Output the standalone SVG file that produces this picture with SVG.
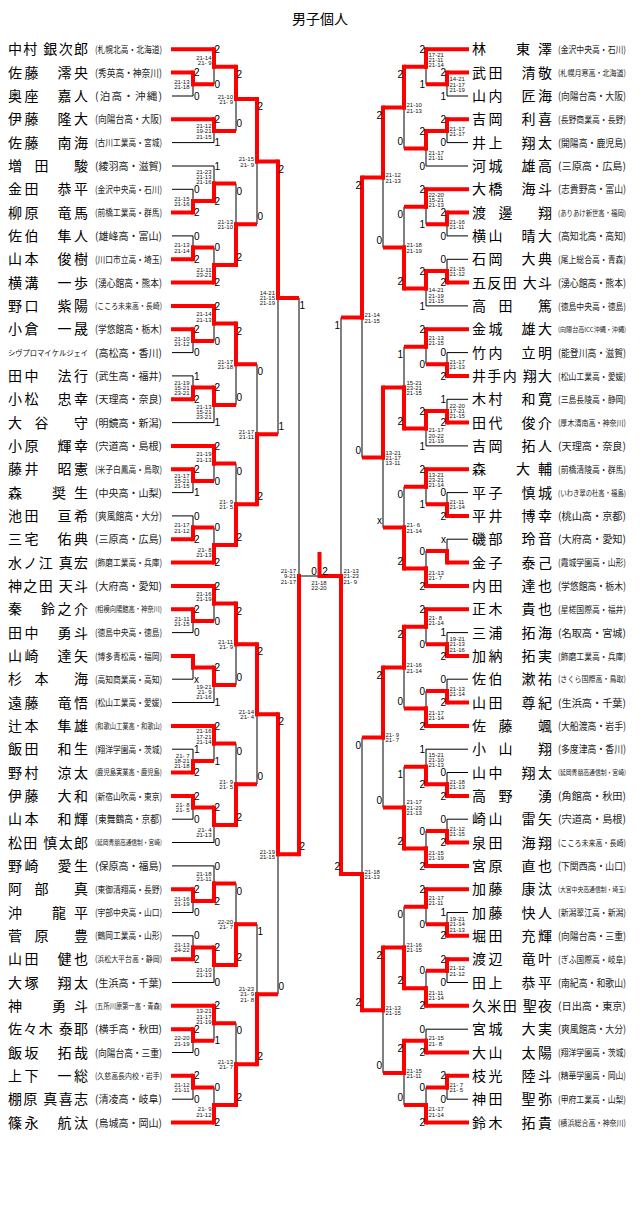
<svg xmlns="http://www.w3.org/2000/svg" width="640" height="1205" viewBox="0 0 640 1205">
<style>
.k{stroke:#000;stroke-width:1;fill:none}
.r{stroke:#f00;stroke-width:4;fill:none}
.rv{stroke:#f00;stroke-width:4;fill:none;stroke-linecap:square}
.nm{font-family:"Noto Sans CJK JP",sans-serif;font-size:14px;fill:#000}
.kt{font-family:"Noto Sans CJK JP",sans-serif;font-size:7.6px;fill:#000}
.af{font-family:"Noto Sans CJK JP",sans-serif;fill:#222}
.a6{font-size:10.5px}
.a8{font-size:9.4px}
.a9{font-size:8.3px}
.a10{font-size:7.5px}
.a11{font-size:6.8px}
.lb{font-family:"Liberation Sans",Arial,sans-serif;font-size:10px;fill:#000}
.lr{font-family:"Liberation Sans",Arial,sans-serif;font-size:10px;fill:#000;text-anchor:end}
.lc{font-family:"Liberation Sans",Arial,sans-serif;font-size:10px;fill:#000;text-anchor:middle}
.sl{font-family:"Liberation Sans",Arial,sans-serif;font-size:6px;fill:#111;text-anchor:end}
.sr{font-family:"Liberation Sans",Arial,sans-serif;font-size:6px;fill:#111}
.sm{font-family:"Liberation Sans",Arial,sans-serif;font-size:6px;fill:#111;text-anchor:middle}
.ti{font-family:"Noto Sans CJK JP",sans-serif;font-size:14px;fill:#000;text-anchor:middle}
</style>
<rect width="640" height="1205" fill="#fff"/>
<text id="title" class="ti" x="320" y="24">男子個人</text>

<g id="connectors">
<path class="k" d="M172 96H193M172 142.6H214M172 166H214M172 189.3H193M172 235.9H193M172 352.6H193M172 375.9H193M172 422.6H214M172 492.6H193M172 515.9H193M172 632.6H193M172 679.2H193M172 702.5H214M172 749.2H193M172 819.2H193M172 842.5H214M172 865.9H214M172 912.5H193M172 935.8H193M172 982.5H214M172 1052.5H193M172 1099.2H193
M193 72.6V96M193 189.3V212.6M193 235.9V259.3M193 329.3V352.6M193 375.9V399.3M193 469.2V492.6M193 515.9V539.2M193 609.2V632.6M193 655.9V679.2M193 749.2V772.5M193 795.9V819.2M193 889.2V912.5M193 935.8V959.2M193 1029.2V1052.5M193 1075.8V1099.2
M214 49.3V84.3M214 119.3V142.6M214 166V201M214 247.6V282.6M214 305.9V340.9M214 387.6V422.6M214 445.9V480.9M214 527.6V562.6M214 585.9V620.9M214 667.6V702.5M214 725.9V760.9M214 807.5V842.5M214 865.9V900.9M214 947.5V982.5M214 1005.8V1040.8M214 1087.5V1122.5
M236 66.8V131M236 183.5V265.1M236 323.4V405.1M236 463.4V545.1M236 603.4V685.1M236 743.4V825M236 883.4V965M236 1023.3V1105
M257 98.9V224.3M257 364.3V504.2M257 644.2V784.2M257 924.2V1064.2
M278 161.6V434.3M278 714.2V994.2
M299 297.9V854.2M299 576H320
M468 96H447M468 142.6H447M468 166H426M468 235.9H447M468 259.3H447M468 305.9H426M468 352.6H447M468 399.3H447M468 445.9H426M468 492.6H447M468 539.2H447M468 632.6H447M468 679.2H447M468 749.2H426M468 772.5H447M468 819.2H447M468 912.5H447M468 982.5H447M468 1029.2H426M468 1099.2H447
M447 72.6V96M447 119.3V142.6M447 212.6V235.9M447 259.3V282.6M447 352.6V375.9M447 399.3V422.6M447 492.6V515.9M447 539.2V562.6M447 632.6V655.9M447 679.2V702.5M447 772.5V795.9M447 819.2V842.5M447 912.5V935.8M447 959.2V982.5M447 1075.8V1099.2
M426 49.3V84.3M426 131V166M426 189.3V224.3M426 270.9V305.9M426 329.3V364.3M426 410.9V445.9M426 469.2V504.2M426 550.9V585.9M426 609.2V644.2M426 690.9V725.9M426 749.2V784.2M426 830.9V865.9M426 889.2V924.2M426 970.8V1005.8M426 1029.2V1052.5M426 1087.5V1122.5
M404 66.8V148.5M404 206.8V288.4M404 346.8V428.4M404 486.7V568.4M404 626.7V708.4M404 766.7V848.4M404 906.7V988.3M404 1040.8V1105
M383 107.6V247.6M383 387.6V527.6M383 667.6V807.5M383 947.5V1072.9
M362 177.6V457.6M362 737.5V1010.2
M341 317.6V873.9"/>
<path class="r" d="M171 49.3H214M171 72.6H193M171 119.3H214M171 212.6H193M171 259.3H193M171 282.6H214M171 305.9H214M171 329.3H193M171 399.3H193M171 445.9H214M171 469.2H193M171 539.2H193M171 562.6H214M171 585.9H214M171 609.2H193M171 655.9H193M171 725.9H214M171 772.5H193M171 795.9H193M171 889.2H193M171 959.2H193M171 1005.8H214M171 1029.2H193M171 1075.8H193M171 1122.5H214
M191 84.3H214M191 201H214M191 247.6H214M191 340.9H214M191 387.6H214M191 480.9H214M191 527.6H214M191 620.9H214M191 667.6H214M191 760.9H214M191 807.5H214M191 900.9H214M191 947.5H214M191 1040.8H214M191 1087.5H214
M212 66.8H236M212 131H236M212 183.5H236M212 265.1H236M212 323.4H236M212 405.1H236M212 463.4H236M212 545.1H236M212 603.4H236M212 685.1H236M212 743.4H236M212 825H236M212 883.4H236M212 965H236M212 1023.3H236M212 1105H236
M234 98.9H257M234 224.3H257M234 364.3H257M234 504.2H257M234 644.2H257M234 784.2H257M234 924.2H257M234 1064.2H257
M255 161.6H278M255 434.3H278M255 714.2H278M255 994.2H278
M276 297.9H299M276 854.2H299
M469 49.3H426M469 72.6H447M469 119.3H447M469 189.3H426M469 212.6H447M469 282.6H447M469 329.3H426M469 375.9H447M469 422.6H447M469 469.2H426M469 515.9H447M469 562.6H447M469 585.9H426M469 609.2H426M469 655.9H447M469 702.5H447M469 725.9H426M469 795.9H447M469 842.5H447M469 865.9H426M469 889.2H426M469 935.8H447M469 959.2H447M469 1005.8H426M469 1052.5H426M469 1075.8H447M469 1122.5H426
M449 84.3H426M449 131H426M449 224.3H426M449 270.9H426M449 364.3H426M449 410.9H426M449 504.2H426M449 550.9H426M449 644.2H426M449 690.9H426M449 784.2H426M449 830.9H426M449 924.2H426M449 970.8H426M449 1087.5H426
M428 66.8H404M428 148.5H404M428 206.8H404M428 288.4H404M428 346.8H404M428 428.4H404M428 486.7H404M428 568.4H404M428 626.7H404M428 708.4H404M428 766.7H404M428 848.4H404M428 906.7H404M428 988.3H404M428 1040.8H404M428 1105H404
M406 107.6H383M406 247.6H383M406 387.6H383M406 527.6H383M406 667.6H383M406 807.5H383M406 947.5H383M406 1072.9H383
M385 177.6H362M385 457.6H362M385 737.5H362M385 1010.2H362
M364 317.6H341M364 873.9H341
M343 576H317.5M319.5 578V552"/>
<path class="rv" d="M193 72.6V84.3M193 212.6V201M193 259.3V247.6M193 329.3V340.9M193 399.3V387.6M193 469.2V480.9M193 539.2V527.6M193 609.2V620.9M193 655.9V667.6M193 772.5V760.9M193 795.9V807.5M193 889.2V900.9M193 959.2V947.5M193 1029.2V1040.8M193 1075.8V1087.5
M214 49.3V66.8M214 119.3V131M214 201V183.5M214 282.6V265.1M214 305.9V323.4M214 387.6V405.1M214 445.9V463.4M214 562.6V545.1M214 585.9V603.4M214 667.6V685.1M214 725.9V743.4M214 807.5V825M214 900.9V883.4M214 947.5V965M214 1005.8V1023.3M214 1122.5V1105
M236 66.8V98.9M236 265.1V224.3M236 323.4V364.3M236 545.1V504.2M236 603.4V644.2M236 825V784.2M236 965V924.2M236 1105V1064.2
M257 98.9V161.6M257 504.2V434.3M257 644.2V714.2M257 1064.2V994.2
M278 161.6V297.9M278 714.2V854.2
M299 854.2V576
M447 72.6V84.3M447 119.3V131M447 212.6V224.3M447 282.6V270.9M447 375.9V364.3M447 422.6V410.9M447 515.9V504.2M447 562.6V550.9M447 655.9V644.2M447 702.5V690.9M447 795.9V784.2M447 842.5V830.9M447 935.8V924.2M447 959.2V970.8M447 1075.8V1087.5
M426 49.3V66.8M426 131V148.5M426 189.3V206.8M426 270.9V288.4M426 329.3V346.8M426 410.9V428.4M426 469.2V486.7M426 585.9V568.4M426 609.2V626.7M426 725.9V708.4M426 784.2V766.7M426 865.9V848.4M426 889.2V906.7M426 1005.8V988.3M426 1052.5V1040.8M426 1122.5V1105
M404 66.8V107.6M404 288.4V247.6M404 428.4V387.6M404 568.4V527.6M404 626.7V667.6M404 848.4V807.5M404 988.3V947.5M404 1040.8V1072.9
M383 107.6V177.6M383 387.6V457.6M383 667.6V737.5M383 947.5V1010.2
M362 177.6V317.6M362 1010.2V873.9
M341 873.9V576"/>
</g>

<g id="results">
<text class="lb" x="194" y="76.2">2</text><text class="lb" x="194" y="99.6">0</text><text class="lb" x="194" y="192.9">0</text><text class="lb" x="194" y="216.2">2</text><text class="lb" x="194" y="239.5">0</text><text class="lb" x="194" y="262.9">2</text><text class="lb" x="194" y="332.9">2</text><text class="lb" x="194" y="356.2">0</text><text class="lb" x="194" y="379.5">1</text><text class="lb" x="194" y="402.9">2</text><text class="lb" x="194" y="472.8">2</text><text class="lb" x="194" y="496.2">1</text><text class="lb" x="194" y="519.5">0</text><text class="lb" x="194" y="542.8">2</text><text class="lb" x="194" y="612.8">2</text><text class="lb" x="194" y="636.2">0</text><text class="lb" x="194" y="682.8">x</text><text class="lb" x="194" y="752.8">1</text><text class="lb" x="194" y="776.1">2</text><text class="lb" x="194" y="799.5">2</text><text class="lb" x="194" y="822.8">0</text><text class="lb" x="194" y="892.8">2</text><text class="lb" x="194" y="916.1">0</text><text class="lb" x="194" y="939.4">0</text><text class="lb" x="194" y="962.8">2</text><text class="lb" x="194" y="1032.8">2</text><text class="lb" x="194" y="1056.1">0</text><text class="lb" x="194" y="1079.4">2</text><text class="lb" x="194" y="1102.8">0</text>
<text class="lb" x="214.5" y="52.9">2</text><text class="lb" x="214.5" y="87.9">0</text><text class="lb" x="214.5" y="122.9">2</text><text class="lb" x="214.5" y="146.2">1</text><text class="lb" x="214.5" y="169.6">1</text><text class="lb" x="214.5" y="204.6">2</text><text class="lb" x="214.5" y="251.2">0</text><text class="lb" x="214.5" y="286.2">2</text><text class="lb" x="214.5" y="309.5">2</text><text class="lb" x="214.5" y="344.5">0</text><text class="lb" x="214.5" y="391.2">2</text><text class="lb" x="214.5" y="426.2">1</text><text class="lb" x="214.5" y="449.5">2</text><text class="lb" x="214.5" y="484.5">0</text><text class="lb" x="214.5" y="531.2">0</text><text class="lb" x="214.5" y="566.2">2</text><text class="lb" x="214.5" y="589.5">2</text><text class="lb" x="214.5" y="624.5">0</text><text class="lb" x="214.5" y="671.2">2</text><text class="lb" x="214.5" y="706.1">1</text><text class="lb" x="214.5" y="729.5">2</text><text class="lb" x="214.5" y="764.5">1</text><text class="lb" x="214.5" y="811.1">2</text><text class="lb" x="214.5" y="846.1">0</text><text class="lb" x="214.5" y="869.5">0</text><text class="lb" x="214.5" y="904.5">2</text><text class="lb" x="214.5" y="951.1">2</text><text class="lb" x="214.5" y="986.1">0</text><text class="lb" x="214.5" y="1009.4">2</text><text class="lb" x="214.5" y="1044.4">1</text><text class="lb" x="214.5" y="1091.1">0</text><text class="lb" x="214.5" y="1126.1">2</text>
<text class="lb" x="236.5" y="77.9">2</text><text class="lb" x="236.5" y="127.1">0</text><text class="lb" x="236.5" y="194.6">0</text><text class="lb" x="236.5" y="261.2">2</text><text class="lb" x="236.5" y="334.5">2</text><text class="lb" x="236.5" y="401.2">0</text><text class="lb" x="236.5" y="474.5">0</text><text class="lb" x="236.5" y="541.2">2</text><text class="lb" x="236.5" y="614.5">2</text><text class="lb" x="236.5" y="681.2">0</text><text class="lb" x="236.5" y="754.5">0</text><text class="lb" x="236.5" y="821.1">2</text><text class="lb" x="236.5" y="894.5">0</text><text class="lb" x="236.5" y="961.1">2</text><text class="lb" x="236.5" y="1034.4">0</text><text class="lb" x="236.5" y="1101.1">2</text>
<text class="lb" x="257.5" y="110">2</text><text class="lb" x="257.5" y="220.4">0</text><text class="lb" x="257.5" y="375.4">0</text><text class="lb" x="257.5" y="500.3">2</text><text class="lb" x="257.5" y="655.3">2</text><text class="lb" x="257.5" y="780.3">0</text><text class="lb" x="257.5" y="935.3">1</text><text class="lb" x="257.5" y="1060.3">2</text>
<text class="lb" x="278.5" y="172.7">2</text><text class="lb" x="278.5" y="430.4">1</text><text class="lb" x="278.5" y="725.3">2</text><text class="lb" x="278.5" y="990.3">0</text>
<text class="lb" x="299.5" y="309">1</text><text class="lb" x="299.5" y="850.3">2</text>
<text class="lr" x="446" y="76.2">2</text><text class="lr" x="446" y="99.6">1</text><text class="lr" x="446" y="122.9">2</text><text class="lr" x="446" y="146.2">0</text><text class="lr" x="446" y="216.2">2</text><text class="lr" x="446" y="239.5">0</text><text class="lr" x="446" y="262.9">0</text><text class="lr" x="446" y="286.2">2</text><text class="lr" x="446" y="356.2">0</text><text class="lr" x="446" y="379.5">2</text><text class="lr" x="446" y="402.9">1</text><text class="lr" x="446" y="426.2">2</text><text class="lr" x="446" y="496.2">0</text><text class="lr" x="446" y="519.5">2</text><text class="lr" x="446" y="542.8">x</text><text class="lr" x="446" y="636.2">1</text><text class="lr" x="446" y="659.5">2</text><text class="lr" x="446" y="682.8">0</text><text class="lr" x="446" y="706.1">2</text><text class="lr" x="446" y="776.1">0</text><text class="lr" x="446" y="799.5">2</text><text class="lr" x="446" y="822.8">0</text><text class="lr" x="446" y="846.1">2</text><text class="lr" x="446" y="916.1">1</text><text class="lr" x="446" y="939.4">2</text><text class="lr" x="446" y="962.8">2</text><text class="lr" x="446" y="986.1">0</text><text class="lr" x="446" y="1079.4">2</text><text class="lr" x="446" y="1102.8">0</text>
<text class="lr" x="425" y="52.9">2</text><text class="lr" x="425" y="87.9">1</text><text class="lr" x="425" y="134.6">2</text><text class="lr" x="425" y="169.6">0</text><text class="lr" x="425" y="192.9">2</text><text class="lr" x="425" y="227.9">1</text><text class="lr" x="425" y="274.5">2</text><text class="lr" x="425" y="309.5">1</text><text class="lr" x="425" y="332.9">2</text><text class="lr" x="425" y="367.9">0</text><text class="lr" x="425" y="414.5">2</text><text class="lr" x="425" y="449.5">1</text><text class="lr" x="425" y="472.8">2</text><text class="lr" x="425" y="507.8">1</text><text class="lr" x="425" y="554.5">0</text><text class="lr" x="425" y="589.5">2</text><text class="lr" x="425" y="612.8">2</text><text class="lr" x="425" y="647.8">0</text><text class="lr" x="425" y="694.5">0</text><text class="lr" x="425" y="729.5">2</text><text class="lr" x="425" y="752.8">1</text><text class="lr" x="425" y="787.8">2</text><text class="lr" x="425" y="834.5">0</text><text class="lr" x="425" y="869.5">2</text><text class="lr" x="425" y="892.8">2</text><text class="lr" x="425" y="927.8">0</text><text class="lr" x="425" y="974.4">0</text><text class="lr" x="425" y="1009.4">2</text><text class="lr" x="425" y="1032.8">0</text><text class="lr" x="425" y="1056.1">2</text><text class="lr" x="425" y="1091.1">0</text><text class="lr" x="425" y="1126.1">2</text>
<text class="lr" x="403" y="77.9">2</text><text class="lr" x="403" y="144.6">0</text><text class="lr" x="403" y="217.9">0</text><text class="lr" x="403" y="284.5">2</text><text class="lr" x="403" y="357.9">1</text><text class="lr" x="403" y="424.5">2</text><text class="lr" x="403" y="497.8">0</text><text class="lr" x="403" y="564.5">2</text><text class="lr" x="403" y="637.8">2</text><text class="lr" x="403" y="704.5">0</text><text class="lr" x="403" y="777.8">1</text><text class="lr" x="403" y="844.5">2</text><text class="lr" x="403" y="917.8">0</text><text class="lr" x="403" y="984.4">2</text><text class="lr" x="403" y="1051.9">2</text><text class="lr" x="403" y="1101.1">0</text>
<text class="lr" x="382" y="118.7">2</text><text class="lr" x="382" y="243.7">0</text><text class="lr" x="382" y="523.7">x</text><text class="lr" x="382" y="678.7">2</text><text class="lr" x="382" y="803.6">0</text><text class="lr" x="382" y="958.6">2</text><text class="lr" x="382" y="1069">0</text>
<text class="lr" x="361" y="188.7">2</text><text class="lr" x="361" y="453.7">0</text><text class="lr" x="361" y="748.6">0</text><text class="lr" x="361" y="1006.3">2</text>
<text class="lr" x="340" y="328.7">1</text><text class="lr" x="340" y="870">2</text>
<text class="lc" x="314" y="574.5">0</text><text class="lc" x="325" y="574.5">2</text>
</g>

<g id="scores">
<text class="sl"><tspan x="189.5" y="83.9">21-13</tspan><tspan x="189.5" y="89.2">21-18</tspan></text>
<text class="sl"><tspan x="189.5" y="200.6">21-15</tspan><tspan x="189.5" y="205.9">21-16</tspan></text>
<text class="sl"><tspan x="189.5" y="247.2">21-13</tspan><tspan x="189.5" y="252.5">21-14</tspan></text>
<text class="sl"><tspan x="189.5" y="340.5">21-10</tspan><tspan x="189.5" y="345.8">21-12</tspan></text>
<text class="sl"><tspan x="189.5" y="384.5">21-19</tspan><tspan x="189.5" y="389.8">15-21</tspan><tspan x="189.5" y="395.1">23-21</tspan></text>
<text class="sl"><tspan x="189.5" y="477.8">21-17</tspan><tspan x="189.5" y="483.1">15-21</tspan><tspan x="189.5" y="488.4">21-15</tspan></text>
<text class="sl"><tspan x="189.5" y="527.2">21-17</tspan><tspan x="189.5" y="532.5">21-12</tspan></text>
<text class="sl"><tspan x="189.5" y="620.5">21-11</tspan><tspan x="189.5" y="625.8">21-15</tspan></text>
<text class="sl"><tspan x="189.5" y="757.8">21- 7</tspan><tspan x="189.5" y="763.1">18-21</tspan><tspan x="189.5" y="768.4">21-18</tspan></text>
<text class="sl"><tspan x="189.5" y="807.1">21- 8</tspan><tspan x="189.5" y="812.4">21- 5</tspan></text>
<text class="sl"><tspan x="189.5" y="900.5">21-16</tspan><tspan x="189.5" y="905.8">21-19</tspan></text>
<text class="sl"><tspan x="189.5" y="947.1">21-13</tspan><tspan x="189.5" y="952.4">24-22</tspan></text>
<text class="sl"><tspan x="189.5" y="1040.4">22-20</tspan><tspan x="189.5" y="1045.7">21-19</tspan></text>
<text class="sl"><tspan x="189.5" y="1087.1">21-12</tspan><tspan x="189.5" y="1092.4">21-11</tspan></text>
<text class="sl"><tspan x="211.5" y="59.5">21-14</tspan><tspan x="211.5" y="64.8">21- 9</tspan></text>
<text class="sl"><tspan x="211.5" y="127.9">21-12</tspan><tspan x="211.5" y="133.2">19-21</tspan><tspan x="211.5" y="138.5">21-15</tspan></text>
<text class="sl"><tspan x="211.5" y="173.5">21-23</tspan><tspan x="211.5" y="178.8">21-13</tspan><tspan x="211.5" y="184.1">21-16</tspan></text>
<text class="sl"><tspan x="211.5" y="271.6">21-11</tspan><tspan x="211.5" y="276.9">23-21</tspan></text>
<text class="sl"><tspan x="211.5" y="316.2">21-14</tspan><tspan x="211.5" y="321.5">21-13</tspan></text>
<text class="sl"><tspan x="211.5" y="408.8">21-13</tspan><tspan x="211.5" y="414.1">15-21</tspan><tspan x="211.5" y="419.4">23-21</tspan></text>
<text class="sl"><tspan x="211.5" y="456.2">21-19</tspan><tspan x="211.5" y="461.5">21-13</tspan></text>
<text class="sl"><tspan x="211.5" y="551.5">21- 8</tspan><tspan x="211.5" y="556.8">21-13</tspan></text>
<text class="sl"><tspan x="211.5" y="596.1">21-16</tspan><tspan x="211.5" y="601.4">21-19</tspan></text>
<text class="sl"><tspan x="211.5" y="688.8">19-21</tspan><tspan x="211.5" y="694.1">21- 9</tspan><tspan x="211.5" y="699.4">21-16</tspan></text>
<text class="sl"><tspan x="211.5" y="733.4">21-16</tspan><tspan x="211.5" y="738.7">17-21</tspan><tspan x="211.5" y="744">21-14</tspan></text>
<text class="sl"><tspan x="211.5" y="831.5">21- 4</tspan><tspan x="211.5" y="836.8">21-13</tspan></text>
<text class="sl"><tspan x="211.5" y="876.1">21-18</tspan><tspan x="211.5" y="881.4">21-11</tspan></text>
<text class="sl"><tspan x="211.5" y="971.5">21-10</tspan><tspan x="211.5" y="976.8">21-13</tspan></text>
<text class="sl"><tspan x="211.5" y="1013.4">13-21</tspan><tspan x="211.5" y="1018.7">21-17</tspan><tspan x="211.5" y="1024">21-19</tspan></text>
<text class="sl"><tspan x="211.5" y="1111.4">21- 9</tspan><tspan x="211.5" y="1116.7">21-12</tspan></text>
<text class="sl"><tspan x="233" y="98.5">21-10</tspan><tspan x="233" y="103.8">21- 9</tspan></text>
<text class="sl"><tspan x="233" y="223.9">21-13</tspan><tspan x="233" y="229.2">21-10</tspan></text>
<text class="sl"><tspan x="233" y="363.9">21-17</tspan><tspan x="233" y="369.2">21-18</tspan></text>
<text class="sl"><tspan x="233" y="503.8">21- 9</tspan><tspan x="233" y="509.1">21- 5</tspan></text>
<text class="sl"><tspan x="233" y="643.8">21-11</tspan><tspan x="233" y="649.1">21- 9</tspan></text>
<text class="sl"><tspan x="233" y="783.8">21- 9</tspan><tspan x="233" y="789.1">21- 5</tspan></text>
<text class="sl"><tspan x="233" y="923.8">22-20</tspan><tspan x="233" y="929.1">21- 7</tspan></text>
<text class="sl"><tspan x="233" y="1063.8">21-13</tspan><tspan x="233" y="1069.1">21- 7</tspan></text>
<text class="sl"><tspan x="254" y="161.2">21-15</tspan><tspan x="254" y="166.5">21- 9</tspan></text>
<text class="sl"><tspan x="254" y="433.9">21-17</tspan><tspan x="254" y="439.2">21-11</tspan></text>
<text class="sl"><tspan x="254" y="713.8">21-14</tspan><tspan x="254" y="719.1">21- 4</tspan></text>
<text class="sl"><tspan x="254" y="991.1">21-23</tspan><tspan x="254" y="996.4">21- 9</tspan><tspan x="254" y="1001.7">21- 8</tspan></text>
<text class="sl"><tspan x="275" y="294.8">14-21</tspan><tspan x="275" y="300.1">21-15</tspan><tspan x="275" y="305.4">21-19</tspan></text>
<text class="sl"><tspan x="275" y="853.8">21-19</tspan><tspan x="275" y="859.1">21-15</tspan></text>
<text class="sl"><tspan x="296" y="572.9">21-17</tspan><tspan x="296" y="578.2">9-21</tspan><tspan x="296" y="583.5">21-17</tspan></text>
<text class="sm"><tspan x="319" y="584.7">21-18</tspan><tspan x="319" y="590.2">22-20</tspan></text>
<text class="sr"><tspan x="343.5" y="572.9">21-13</tspan><tspan x="343.5" y="578.2">21-23</tspan><tspan x="343.5" y="583.5">21- 9</tspan></text>
<text class="sr"><tspan x="449.5" y="81.2">14-21</tspan><tspan x="449.5" y="86.5">21-17</tspan><tspan x="449.5" y="91.8">21-19</tspan></text>
<text class="sr"><tspan x="449.5" y="130.6">21-17</tspan><tspan x="449.5" y="135.9">21-17</tspan></text>
<text class="sr"><tspan x="449.5" y="223.9">21-16</tspan><tspan x="449.5" y="229.2">21-11</tspan></text>
<text class="sr"><tspan x="449.5" y="270.5">21-15</tspan><tspan x="449.5" y="275.8">21-12</tspan></text>
<text class="sr"><tspan x="449.5" y="363.9">21-17</tspan><tspan x="449.5" y="369.2">21-13</tspan></text>
<text class="sr"><tspan x="449.5" y="407.8">22-20</tspan><tspan x="449.5" y="413.1">17-21</tspan><tspan x="449.5" y="418.4">21-15</tspan></text>
<text class="sr"><tspan x="449.5" y="503.8">21-11</tspan><tspan x="449.5" y="509.1">21-14</tspan></text>
<text class="sr"><tspan x="449.5" y="641.1">19-21</tspan><tspan x="449.5" y="646.4">21-13</tspan><tspan x="449.5" y="651.7">21-16</tspan></text>
<text class="sr"><tspan x="449.5" y="690.5">21-13</tspan><tspan x="449.5" y="695.8">21-14</tspan></text>
<text class="sr"><tspan x="449.5" y="783.8">21-18</tspan><tspan x="449.5" y="789.1">21-13</tspan></text>
<text class="sr"><tspan x="449.5" y="830.5">21-12</tspan><tspan x="449.5" y="835.8">21-15</tspan></text>
<text class="sr"><tspan x="449.5" y="921.1">19-21</tspan><tspan x="449.5" y="926.4">21-14</tspan><tspan x="449.5" y="931.7">21-13</tspan></text>
<text class="sr"><tspan x="449.5" y="970.4">21-12</tspan><tspan x="449.5" y="975.7">21-12</tspan></text>
<text class="sr"><tspan x="449.5" y="1087.1">21- 7</tspan><tspan x="449.5" y="1092.4">21- 5</tspan></text>
<text class="sr"><tspan x="428.5" y="56.8">17-21</tspan><tspan x="428.5" y="62.1">21-11</tspan><tspan x="428.5" y="67.4">21-14</tspan></text>
<text class="sr"><tspan x="428.5" y="154.9">21-17</tspan><tspan x="428.5" y="160.2">21-11</tspan></text>
<text class="sr"><tspan x="428.5" y="196.8">22-20</tspan><tspan x="428.5" y="202.1">15-21</tspan><tspan x="428.5" y="207.4">21-13</tspan></text>
<text class="sr"><tspan x="428.5" y="292.2">14-21</tspan><tspan x="428.5" y="297.5">21-19</tspan><tspan x="428.5" y="302.8">21-15</tspan></text>
<text class="sr"><tspan x="428.5" y="339.5">21-13</tspan><tspan x="428.5" y="344.8">21-15</tspan></text>
<text class="sr"><tspan x="428.5" y="432.2">21-17</tspan><tspan x="428.5" y="437.5">20-22</tspan><tspan x="428.5" y="442.8">21-19</tspan></text>
<text class="sr"><tspan x="428.5" y="476.8">13-21</tspan><tspan x="428.5" y="482.1">23-21</tspan><tspan x="428.5" y="487.4">21-14</tspan></text>
<text class="sr"><tspan x="428.5" y="574.8">21-13</tspan><tspan x="428.5" y="580.1">21- 7</tspan></text>
<text class="sr"><tspan x="428.5" y="619.5">21- 8</tspan><tspan x="428.5" y="624.8">21-14</tspan></text>
<text class="sr"><tspan x="428.5" y="714.8">21-17</tspan><tspan x="428.5" y="720.1">21-14</tspan></text>
<text class="sr"><tspan x="428.5" y="756.8">15-21</tspan><tspan x="428.5" y="762.1">21-10</tspan><tspan x="428.5" y="767.4">21-13</tspan></text>
<text class="sr"><tspan x="428.5" y="854.8">21-15</tspan><tspan x="428.5" y="860.1">21-19</tspan></text>
<text class="sr"><tspan x="428.5" y="899.5">21-17</tspan><tspan x="428.5" y="904.8">21-11</tspan></text>
<text class="sr"><tspan x="428.5" y="994.8">21-11</tspan><tspan x="428.5" y="1000.1">21-14</tspan></text>
<text class="sr"><tspan x="428.5" y="1040.4">21-15</tspan><tspan x="428.5" y="1045.7">21- 8</tspan></text>
<text class="sr"><tspan x="428.5" y="1111.4">21-17</tspan><tspan x="428.5" y="1116.7">21-14</tspan></text>
<text class="sr"><tspan x="406.5" y="107.2">21-10</tspan><tspan x="406.5" y="112.5">21-13</tspan></text>
<text class="sr"><tspan x="406.5" y="247.2">21-18</tspan><tspan x="406.5" y="252.5">21-19</tspan></text>
<text class="sr"><tspan x="406.5" y="384.5">15-21</tspan><tspan x="406.5" y="389.8">23-21</tspan><tspan x="406.5" y="395.1">21-15</tspan></text>
<text class="sr"><tspan x="406.5" y="527.2">21- 6</tspan><tspan x="406.5" y="532.5">21-14</tspan></text>
<text class="sr"><tspan x="406.5" y="667.2">21-16</tspan><tspan x="406.5" y="672.5">21-14</tspan></text>
<text class="sr"><tspan x="406.5" y="804.4">21-17</tspan><tspan x="406.5" y="809.7">21-23</tspan><tspan x="406.5" y="815">21-13</tspan></text>
<text class="sr"><tspan x="406.5" y="947.1">21-16</tspan><tspan x="406.5" y="952.4">21-15</tspan></text>
<text class="sr"><tspan x="406.5" y="1072.5">21-15</tspan><tspan x="406.5" y="1077.8">21-11</tspan></text>
<text class="sr"><tspan x="385.5" y="177.2">21-12</tspan><tspan x="385.5" y="182.5">21-13</tspan></text>
<text class="sr"><tspan x="385.5" y="454.5">13-21</tspan><tspan x="385.5" y="459.8">21-17</tspan><tspan x="385.5" y="465.1">13-11</tspan></text>
<text class="sr"><tspan x="385.5" y="737.1">21- 9</tspan><tspan x="385.5" y="742.4">21- 7</tspan></text>
<text class="sr"><tspan x="385.5" y="1009.8">21-13</tspan><tspan x="385.5" y="1015.1">21-15</tspan></text>
<text class="sr"><tspan x="364.5" y="317.2">21-14</tspan><tspan x="364.5" y="322.5">21-15</tspan></text>
<text class="sr"><tspan x="364.5" y="873.5">21-18</tspan><tspan x="364.5" y="878.8">21-13</tspan></text>
</g>

<g id="L01" transform="translate(0,49.3)"><text class="nm" x="8" y="5" textLength="80" lengthAdjust="spacing">中村 銀次郎</text><text class="af a8" x="95" y="3.6" textLength="67" lengthAdjust="spacingAndGlyphs">(札幌北高・北海道)</text></g>
<g id="L02" transform="translate(0,72.6)"><text class="nm" x="8" y="5" textLength="80" lengthAdjust="spacing">佐藤　澪央</text><text class="af a6" x="95" y="4" textLength="67" lengthAdjust="spacingAndGlyphs">(秀英高・神奈川)</text></g>
<g id="L03" transform="translate(0,96)"><text class="nm" x="8" y="5" textLength="80" lengthAdjust="spacing">奥座　嘉人</text><text class="af a6" x="95" y="4" textLength="67" lengthAdjust="spacing">(泊高・沖縄)</text></g>
<g id="L04" transform="translate(0,119.3)"><text class="nm" x="8" y="5" textLength="80" lengthAdjust="spacing">伊藤　隆大</text><text class="af a6" x="95" y="4" textLength="67" lengthAdjust="spacingAndGlyphs">(向陽台高・大阪)</text></g>
<g id="L05" transform="translate(0,142.6)"><text class="nm" x="8" y="5" textLength="80" lengthAdjust="spacing">佐藤　南海</text><text class="af a8" x="95" y="3.6" textLength="67" lengthAdjust="spacingAndGlyphs">(古川工業高・宮城)</text></g>
<g id="L06" transform="translate(0,166)"><text class="nm" x="8" y="5" textLength="80" lengthAdjust="spacing">増　田　　駿</text><text class="af a6" x="95" y="4" textLength="67" lengthAdjust="spacingAndGlyphs">(綾羽高・滋賀)</text></g>
<g id="L07" transform="translate(0,189.3)"><text class="nm" x="8" y="5" textLength="80" lengthAdjust="spacing">金田　恭平</text><text class="af a8" x="95" y="3.6" textLength="67" lengthAdjust="spacingAndGlyphs">(金沢中央高・石川)</text></g>
<g id="L08" transform="translate(0,212.6)"><text class="nm" x="8" y="5" textLength="80" lengthAdjust="spacing">柳原　竜馬</text><text class="af a8" x="95" y="3.6" textLength="67" lengthAdjust="spacingAndGlyphs">(前橋工業高・群馬)</text></g>
<g id="L09" transform="translate(0,235.9)"><text class="nm" x="8" y="5" textLength="80" lengthAdjust="spacing">佐伯　隼人</text><text class="af a6" x="95" y="4" textLength="67" lengthAdjust="spacingAndGlyphs">(雄峰高・富山)</text></g>
<g id="L10" transform="translate(0,259.3)"><text class="nm" x="8" y="5" textLength="80" lengthAdjust="spacing">山本　俊樹</text><text class="af a8" x="95" y="3.6" textLength="67" lengthAdjust="spacingAndGlyphs">(川口市立高・埼玉)</text></g>
<g id="L11" transform="translate(0,282.6)"><text class="nm" x="8" y="5" textLength="80" lengthAdjust="spacing">横溝　一歩</text><text class="af a6" x="95" y="4" textLength="67" lengthAdjust="spacingAndGlyphs">(湧心館高・熊本)</text></g>
<g id="L12" transform="translate(0,305.9)"><text class="nm" x="8" y="5" textLength="80" lengthAdjust="spacing">野口　紫陽</text><text class="af a9" x="95" y="3.2" textLength="67" lengthAdjust="spacingAndGlyphs">(こころ未来高・長崎)</text></g>
<g id="L13" transform="translate(0,329.3)"><text class="nm" x="8" y="5" textLength="80" lengthAdjust="spacing">小倉　一晟</text><text class="af a6" x="95" y="4" textLength="67" lengthAdjust="spacingAndGlyphs">(学悠館高・栃木)</text></g>
<g id="L14" transform="translate(0,352.6)"><text class="kt" x="8" y="3" textLength="80" lengthAdjust="spacingAndGlyphs">シヴプロマイケルジェイ</text><text class="af a6" x="95" y="4" textLength="67" lengthAdjust="spacingAndGlyphs">(高松高・香川)</text></g>
<g id="L15" transform="translate(0,375.9)"><text class="nm" x="8" y="5" textLength="80" lengthAdjust="spacing">田中　法行</text><text class="af a6" x="95" y="4" textLength="67" lengthAdjust="spacingAndGlyphs">(武生高・福井)</text></g>
<g id="L16" transform="translate(0,399.3)"><text class="nm" x="8" y="5" textLength="80" lengthAdjust="spacing">小松　忠幸</text><text class="af a6" x="95" y="4" textLength="67" lengthAdjust="spacingAndGlyphs">(天理高・奈良)</text></g>
<g id="L17" transform="translate(0,422.6)"><text class="nm" x="8" y="5" textLength="80" lengthAdjust="spacing">大　谷　　守</text><text class="af a6" x="95" y="4" textLength="67" lengthAdjust="spacingAndGlyphs">(明鏡高・新潟)</text></g>
<g id="L18" transform="translate(0,445.9)"><text class="nm" x="8" y="5" textLength="80" lengthAdjust="spacing">小原　輝幸</text><text class="af a6" x="95" y="4" textLength="67" lengthAdjust="spacingAndGlyphs">(宍道高・島根)</text></g>
<g id="L19" transform="translate(0,469.2)"><text class="nm" x="8" y="5" textLength="80" lengthAdjust="spacing">藤井　昭憲</text><text class="af a8" x="95" y="3.6" textLength="67" lengthAdjust="spacingAndGlyphs">(米子白鳳高・鳥取)</text></g>
<g id="L20" transform="translate(0,492.6)"><text class="nm" x="8" y="5" textLength="80" lengthAdjust="spacing">森　奨生</text><text class="af a6" x="95" y="4" textLength="67" lengthAdjust="spacingAndGlyphs">(中央高・山梨)</text></g>
<g id="L21" transform="translate(0,515.9)"><text class="nm" x="8" y="5" textLength="80" lengthAdjust="spacing">池田　亘希</text><text class="af a6" x="95" y="4" textLength="67" lengthAdjust="spacingAndGlyphs">(爽風館高・大分)</text></g>
<g id="L22" transform="translate(0,539.2)"><text class="nm" x="8" y="5" textLength="80" lengthAdjust="spacing">三宅　佑典</text><text class="af a6" x="95" y="4" textLength="67" lengthAdjust="spacingAndGlyphs">(三原高・広島)</text></g>
<g id="L23" transform="translate(0,562.6)"><text class="nm" x="8" y="5" textLength="80" lengthAdjust="spacing">水ノ江 真宏</text><text class="af a8" x="95" y="3.6" textLength="67" lengthAdjust="spacingAndGlyphs">(飾磨工業高・兵庫)</text></g>
<g id="L24" transform="translate(0,585.9)"><text class="nm" x="8" y="5" textLength="80" lengthAdjust="spacing">神之田 天斗</text><text class="af a6" x="95" y="4" textLength="67" lengthAdjust="spacingAndGlyphs">(大府高・愛知)</text></g>
<g id="L25" transform="translate(0,609.2)"><text class="nm" x="8" y="5" textLength="80" lengthAdjust="spacing">秦　鈴之介</text><text class="af a10" x="95" y="2.9" textLength="67" lengthAdjust="spacingAndGlyphs">(相模向陽館高・神奈川)</text></g>
<g id="L26" transform="translate(0,632.6)"><text class="nm" x="8" y="5" textLength="80" lengthAdjust="spacing">田中　勇斗</text><text class="af a8" x="95" y="3.6" textLength="67" lengthAdjust="spacingAndGlyphs">(徳島中央高・徳島)</text></g>
<g id="L27" transform="translate(0,655.9)"><text class="nm" x="8" y="5" textLength="80" lengthAdjust="spacing">山崎　達矢</text><text class="af a8" x="95" y="3.6" textLength="67" lengthAdjust="spacingAndGlyphs">(博多青松高・福岡)</text></g>
<g id="L28" transform="translate(0,679.2)"><text class="nm" x="8" y="5" textLength="80" lengthAdjust="spacing">杉　本　　海</text><text class="af a8" x="95" y="3.6" textLength="67" lengthAdjust="spacingAndGlyphs">(高知商業高・高知)</text></g>
<g id="L29" transform="translate(0,702.5)"><text class="nm" x="8" y="5" textLength="80" lengthAdjust="spacing">遠藤　竜悟</text><text class="af a8" x="95" y="3.6" textLength="67" lengthAdjust="spacingAndGlyphs">(松山工業高・愛媛)</text></g>
<g id="L30" transform="translate(0,725.9)"><text class="nm" x="8" y="5" textLength="80" lengthAdjust="spacing">辻本　隼雄</text><text class="af a10" x="95" y="2.9" textLength="67" lengthAdjust="spacingAndGlyphs">(和歌山工業高・和歌山)</text></g>
<g id="L31" transform="translate(0,749.2)"><text class="nm" x="8" y="5" textLength="80" lengthAdjust="spacing">飯田　和生</text><text class="af a8" x="95" y="3.6" textLength="67" lengthAdjust="spacingAndGlyphs">(翔洋学園高・茨城)</text></g>
<g id="L32" transform="translate(0,772.5)"><text class="nm" x="8" y="5" textLength="80" lengthAdjust="spacing">野村　涼太</text><text class="af a10" x="95" y="2.9" textLength="67" lengthAdjust="spacingAndGlyphs">(鹿児島実業高・鹿児島)</text></g>
<g id="L33" transform="translate(0,795.9)"><text class="nm" x="8" y="5" textLength="80" lengthAdjust="spacing">伊藤　大和</text><text class="af a8" x="95" y="3.6" textLength="67" lengthAdjust="spacingAndGlyphs">(新宿山吹高・東京)</text></g>
<g id="L34" transform="translate(0,819.2)"><text class="nm" x="8" y="5" textLength="80" lengthAdjust="spacing">山本　和輝</text><text class="af a6" x="95" y="4" textLength="67" lengthAdjust="spacingAndGlyphs">(東舞鶴高・京都)</text></g>
<g id="L35" transform="translate(0,842.5)"><text class="nm" x="8" y="5" textLength="80" lengthAdjust="spacing">松田 慎太郎</text><text class="af a11" x="95" y="2.6" textLength="67" lengthAdjust="spacingAndGlyphs">(延岡青朋高通信制・宮崎)</text></g>
<g id="L36" transform="translate(0,865.9)"><text class="nm" x="8" y="5" textLength="80" lengthAdjust="spacing">野崎　愛生</text><text class="af a6" x="95" y="4" textLength="67" lengthAdjust="spacingAndGlyphs">(保原高・福島)</text></g>
<g id="L37" transform="translate(0,889.2)"><text class="nm" x="8" y="5" textLength="80" lengthAdjust="spacing">阿　部　　真</text><text class="af a8" x="95" y="3.6" textLength="67" lengthAdjust="spacingAndGlyphs">(東御清翔高・長野)</text></g>
<g id="L38" transform="translate(0,912.5)"><text class="nm" x="8" y="5" textLength="80" lengthAdjust="spacing">沖　龍平</text><text class="af a8" x="95" y="3.6" textLength="67" lengthAdjust="spacingAndGlyphs">(宇部中央高・山口)</text></g>
<g id="L39" transform="translate(0,935.8)"><text class="nm" x="8" y="5" textLength="80" lengthAdjust="spacing">菅　原　　豊</text><text class="af a8" x="95" y="3.6" textLength="67" lengthAdjust="spacingAndGlyphs">(鶴岡工業高・山形)</text></g>
<g id="L40" transform="translate(0,959.2)"><text class="nm" x="8" y="5" textLength="80" lengthAdjust="spacing">山田　健也</text><text class="af a9" x="95" y="3.2" textLength="67" lengthAdjust="spacingAndGlyphs">(浜松大平台高・静岡)</text></g>
<g id="L41" transform="translate(0,982.5)"><text class="nm" x="8" y="5" textLength="80" lengthAdjust="spacing">大塚　翔太</text><text class="af a6" x="95" y="4" textLength="67" lengthAdjust="spacingAndGlyphs">(生浜高・千葉)</text></g>
<g id="L42" transform="translate(0,1005.8)"><text class="nm" x="8" y="5" textLength="80" lengthAdjust="spacing">神　勇斗</text><text class="af a10" x="95" y="2.9" textLength="67" lengthAdjust="spacingAndGlyphs">(五所川原第一高・青森)</text></g>
<g id="L43" transform="translate(0,1029.2)"><text class="nm" x="8" y="5" textLength="80" lengthAdjust="spacing">佐々木 泰耶</text><text class="af a6" x="95" y="4" textLength="67" lengthAdjust="spacingAndGlyphs">(横手高・秋田)</text></g>
<g id="L44" transform="translate(0,1052.5)"><text class="nm" x="8" y="5" textLength="80" lengthAdjust="spacing">飯坂　拓哉</text><text class="af a6" x="95" y="4" textLength="67" lengthAdjust="spacingAndGlyphs">(向陽台高・三重)</text></g>
<g id="L45" transform="translate(0,1075.8)"><text class="nm" x="8" y="5" textLength="80" lengthAdjust="spacing">上下　一総</text><text class="af a9" x="95" y="3.2" textLength="67" lengthAdjust="spacingAndGlyphs">(久慈高長内校・岩手)</text></g>
<g id="L46" transform="translate(0,1099.2)"><text class="nm" x="8" y="5" textLength="80" lengthAdjust="spacing">棚原 真喜志</text><text class="af a6" x="95" y="4" textLength="67" lengthAdjust="spacingAndGlyphs">(清凌高・岐阜)</text></g>
<g id="L47" transform="translate(0,1122.5)"><text class="nm" x="8" y="5" textLength="80" lengthAdjust="spacing">篠永　航汰</text><text class="af a6" x="95" y="4" textLength="67" lengthAdjust="spacingAndGlyphs">(烏城高・岡山)</text></g>

<g id="R01" transform="translate(0,49.3)"><text class="nm" x="472" y="5" textLength="80" lengthAdjust="spacing">林　東澤</text><text class="af a8" x="558" y="3.6" textLength="68" lengthAdjust="spacingAndGlyphs">(金沢中央高・石川)</text></g>
<g id="R02" transform="translate(0,72.6)"><text class="nm" x="472" y="5" textLength="80" lengthAdjust="spacing">武田　清敬</text><text class="af a9" x="558" y="3.2" textLength="68" lengthAdjust="spacingAndGlyphs">(札幌月寒高・北海道)</text></g>
<g id="R03" transform="translate(0,96)"><text class="nm" x="472" y="5" textLength="80" lengthAdjust="spacing">山内　匠海</text><text class="af a6" x="558" y="4" textLength="68" lengthAdjust="spacingAndGlyphs">(向陽台高・大阪)</text></g>
<g id="R04" transform="translate(0,119.3)"><text class="nm" x="472" y="5" textLength="80" lengthAdjust="spacing">吉岡　利喜</text><text class="af a8" x="558" y="3.6" textLength="68" lengthAdjust="spacingAndGlyphs">(長野商業高・長野)</text></g>
<g id="R05" transform="translate(0,142.6)"><text class="nm" x="472" y="5" textLength="80" lengthAdjust="spacing">井上　翔太</text><text class="af a6" x="558" y="4" textLength="68" lengthAdjust="spacingAndGlyphs">(開陽高・鹿児島)</text></g>
<g id="R06" transform="translate(0,166)"><text class="nm" x="472" y="5" textLength="80" lengthAdjust="spacing">河城　雄高</text><text class="af a6" x="558" y="4" textLength="68" lengthAdjust="spacingAndGlyphs">(三原高・広島)</text></g>
<g id="R07" transform="translate(0,189.3)"><text class="nm" x="472" y="5" textLength="80" lengthAdjust="spacing">大橋　海斗</text><text class="af a6" x="558" y="4" textLength="68" lengthAdjust="spacingAndGlyphs">(志貴野高・富山)</text></g>
<g id="R08" transform="translate(0,212.6)"><text class="nm" x="472" y="5" textLength="80" lengthAdjust="spacing">渡　邊　　翔</text><text class="af a10" x="558" y="2.9" textLength="68" lengthAdjust="spacingAndGlyphs">(ありあけ新世高・福岡)</text></g>
<g id="R09" transform="translate(0,235.9)"><text class="nm" x="472" y="5" textLength="80" lengthAdjust="spacing">横山　晴大</text><text class="af a6" x="558" y="4" textLength="68" lengthAdjust="spacingAndGlyphs">(高知北高・高知)</text></g>
<g id="R10" transform="translate(0,259.3)"><text class="nm" x="472" y="5" textLength="80" lengthAdjust="spacing">石岡　大典</text><text class="af a8" x="558" y="3.6" textLength="68" lengthAdjust="spacingAndGlyphs">(尾上総合高・青森)</text></g>
<g id="R11" transform="translate(0,282.6)"><text class="nm" x="472" y="5" textLength="80" lengthAdjust="spacing">五反田 大斗</text><text class="af a6" x="558" y="4" textLength="68" lengthAdjust="spacingAndGlyphs">(湧心館高・熊本)</text></g>
<g id="R12" transform="translate(0,305.9)"><text class="nm" x="472" y="5" textLength="80" lengthAdjust="spacing">高　田　　篤</text><text class="af a8" x="558" y="3.6" textLength="68" lengthAdjust="spacingAndGlyphs">(徳島中央高・徳島)</text></g>
<g id="R13" transform="translate(0,329.3)"><text class="nm" x="472" y="5" textLength="80" lengthAdjust="spacing">金城　雄大</text><text class="af a11" x="558" y="2.6" textLength="68" lengthAdjust="spacingAndGlyphs">(向陽台高ICC沖縄・沖縄)</text></g>
<g id="R14" transform="translate(0,352.6)"><text class="nm" x="472" y="5" textLength="80" lengthAdjust="spacing">竹内　立明</text><text class="af a6" x="558" y="4" textLength="68" lengthAdjust="spacingAndGlyphs">(能登川高・滋賀)</text></g>
<g id="R15" transform="translate(0,375.9)"><text class="nm" x="472" y="5" textLength="80" lengthAdjust="spacing">井手内 翔大</text><text class="af a8" x="558" y="3.6" textLength="68" lengthAdjust="spacingAndGlyphs">(松山工業高・愛媛)</text></g>
<g id="R16" transform="translate(0,399.3)"><text class="nm" x="472" y="5" textLength="80" lengthAdjust="spacing">木村　和寛</text><text class="af a8" x="558" y="3.6" textLength="68" lengthAdjust="spacingAndGlyphs">(三島長陵高・静岡)</text></g>
<g id="R17" transform="translate(0,422.6)"><text class="nm" x="472" y="5" textLength="80" lengthAdjust="spacing">田代　俊介</text><text class="af a9" x="558" y="3.2" textLength="68" lengthAdjust="spacingAndGlyphs">(厚木清南高・神奈川)</text></g>
<g id="R18" transform="translate(0,445.9)"><text class="nm" x="472" y="5" textLength="80" lengthAdjust="spacing">吉岡　拓人</text><text class="af a6" x="558" y="4" textLength="68" lengthAdjust="spacingAndGlyphs">(天理高・奈良)</text></g>
<g id="R19" transform="translate(0,469.2)"><text class="nm" x="472" y="5" textLength="80" lengthAdjust="spacing">森　大輔</text><text class="af a8" x="558" y="3.6" textLength="68" lengthAdjust="spacingAndGlyphs">(前橋清陵高・群馬)</text></g>
<g id="R20" transform="translate(0,492.6)"><text class="nm" x="472" y="5" textLength="80" lengthAdjust="spacing">平子　慎城</text><text class="af a10" x="558" y="2.9" textLength="68" lengthAdjust="spacingAndGlyphs">(いわき翠の杜高・福島)</text></g>
<g id="R21" transform="translate(0,515.9)"><text class="nm" x="472" y="5" textLength="80" lengthAdjust="spacing">平井　博幸</text><text class="af a6" x="558" y="4" textLength="68" lengthAdjust="spacingAndGlyphs">(桃山高・京都)</text></g>
<g id="R22" transform="translate(0,539.2)"><text class="nm" x="472" y="5" textLength="80" lengthAdjust="spacing">磯部　玲音</text><text class="af a6" x="558" y="4" textLength="68" lengthAdjust="spacingAndGlyphs">(大府高・愛知)</text></g>
<g id="R23" transform="translate(0,562.6)"><text class="nm" x="472" y="5" textLength="80" lengthAdjust="spacing">金子　泰己</text><text class="af a8" x="558" y="3.6" textLength="68" lengthAdjust="spacingAndGlyphs">(霞城学園高・山形)</text></g>
<g id="R24" transform="translate(0,585.9)"><text class="nm" x="472" y="5" textLength="80" lengthAdjust="spacing">内田　達也</text><text class="af a6" x="558" y="4" textLength="68" lengthAdjust="spacingAndGlyphs">(学悠館高・栃木)</text></g>
<g id="R25" transform="translate(0,609.2)"><text class="nm" x="472" y="5" textLength="80" lengthAdjust="spacing">正木　貴也</text><text class="af a8" x="558" y="3.6" textLength="68" lengthAdjust="spacingAndGlyphs">(星槎国際高・福井)</text></g>
<g id="R26" transform="translate(0,632.6)"><text class="nm" x="472" y="5" textLength="80" lengthAdjust="spacing">三浦　拓海</text><text class="af a6" x="558" y="4" textLength="68" lengthAdjust="spacingAndGlyphs">(名取高・宮城)</text></g>
<g id="R27" transform="translate(0,655.9)"><text class="nm" x="472" y="5" textLength="80" lengthAdjust="spacing">加納　拓実</text><text class="af a8" x="558" y="3.6" textLength="68" lengthAdjust="spacingAndGlyphs">(飾磨工業高・兵庫)</text></g>
<g id="R28" transform="translate(0,679.2)"><text class="nm" x="472" y="5" textLength="80" lengthAdjust="spacing">佐伯　漱祐</text><text class="af a9" x="558" y="3.2" textLength="68" lengthAdjust="spacingAndGlyphs">(さくら国際高・鳥取)</text></g>
<g id="R29" transform="translate(0,702.5)"><text class="nm" x="472" y="5" textLength="80" lengthAdjust="spacing">山田　尊紀</text><text class="af a6" x="558" y="4" textLength="68" lengthAdjust="spacingAndGlyphs">(生浜高・千葉)</text></g>
<g id="R30" transform="translate(0,725.9)"><text class="nm" x="472" y="5" textLength="80" lengthAdjust="spacing">佐　藤　　颯</text><text class="af a6" x="558" y="4" textLength="68" lengthAdjust="spacingAndGlyphs">(大船渡高・岩手)</text></g>
<g id="R31" transform="translate(0,749.2)"><text class="nm" x="472" y="5" textLength="80" lengthAdjust="spacing">小　山　　翔</text><text class="af a6" x="558" y="4" textLength="68" lengthAdjust="spacingAndGlyphs">(多度津高・香川)</text></g>
<g id="R32" transform="translate(0,772.5)"><text class="nm" x="472" y="5" textLength="80" lengthAdjust="spacing">山中　翔太</text><text class="af a11" x="558" y="2.6" textLength="68" lengthAdjust="spacingAndGlyphs">(延岡青朋高通信制・宮崎)</text></g>
<g id="R33" transform="translate(0,795.9)"><text class="nm" x="472" y="5" textLength="80" lengthAdjust="spacing">高　野　　湧</text><text class="af a6" x="558" y="4" textLength="68" lengthAdjust="spacingAndGlyphs">(角館高・秋田)</text></g>
<g id="R34" transform="translate(0,819.2)"><text class="nm" x="472" y="5" textLength="80" lengthAdjust="spacing">崎山　雷矢</text><text class="af a6" x="558" y="4" textLength="68" lengthAdjust="spacingAndGlyphs">(宍道高・島根)</text></g>
<g id="R35" transform="translate(0,842.5)"><text class="nm" x="472" y="5" textLength="80" lengthAdjust="spacing">泉田　海翔</text><text class="af a9" x="558" y="3.2" textLength="68" lengthAdjust="spacingAndGlyphs">(こころ未来高・長崎)</text></g>
<g id="R36" transform="translate(0,865.9)"><text class="nm" x="472" y="5" textLength="80" lengthAdjust="spacing">宮原　直也</text><text class="af a6" x="558" y="4" textLength="68" lengthAdjust="spacingAndGlyphs">(下関西高・山口)</text></g>
<g id="R37" transform="translate(0,889.2)"><text class="nm" x="472" y="5" textLength="80" lengthAdjust="spacing">加藤　康汰</text><text class="af a11" x="558" y="2.6" textLength="68" lengthAdjust="spacingAndGlyphs">(大宮中央高通信制・埼玉)</text></g>
<g id="R38" transform="translate(0,912.5)"><text class="nm" x="472" y="5" textLength="80" lengthAdjust="spacing">加藤　快人</text><text class="af a8" x="558" y="3.6" textLength="68" lengthAdjust="spacingAndGlyphs">(新潟翠江高・新潟)</text></g>
<g id="R39" transform="translate(0,935.8)"><text class="nm" x="472" y="5" textLength="80" lengthAdjust="spacing">堀田　充輝</text><text class="af a6" x="558" y="4" textLength="68" lengthAdjust="spacingAndGlyphs">(向陽台高・三重)</text></g>
<g id="R40" transform="translate(0,959.2)"><text class="nm" x="472" y="5" textLength="80" lengthAdjust="spacing">渡辺　竜叶</text><text class="af a8" x="558" y="3.6" textLength="68" lengthAdjust="spacingAndGlyphs">(ぎふ国際高・岐阜)</text></g>
<g id="R41" transform="translate(0,982.5)"><text class="nm" x="472" y="5" textLength="80" lengthAdjust="spacing">田上　恭平</text><text class="af a6" x="558" y="4" textLength="68" lengthAdjust="spacingAndGlyphs">(南紀高・和歌山)</text></g>
<g id="R42" transform="translate(0,1005.8)"><text class="nm" x="472" y="5" textLength="80" lengthAdjust="spacing">久米田 聖夜</text><text class="af a6" x="558" y="4" textLength="68" lengthAdjust="spacingAndGlyphs">(日出高・東京)</text></g>
<g id="R43" transform="translate(0,1029.2)"><text class="nm" x="472" y="5" textLength="80" lengthAdjust="spacing">宮城　大実</text><text class="af a6" x="558" y="4" textLength="68" lengthAdjust="spacingAndGlyphs">(爽風館高・大分)</text></g>
<g id="R44" transform="translate(0,1052.5)"><text class="nm" x="472" y="5" textLength="80" lengthAdjust="spacing">大山　太陽</text><text class="af a8" x="558" y="3.6" textLength="68" lengthAdjust="spacingAndGlyphs">(翔洋学園高・茨城)</text></g>
<g id="R45" transform="translate(0,1075.8)"><text class="nm" x="472" y="5" textLength="80" lengthAdjust="spacing">枝光　陸斗</text><text class="af a8" x="558" y="3.6" textLength="68" lengthAdjust="spacingAndGlyphs">(精華学園高・岡山)</text></g>
<g id="R46" transform="translate(0,1099.2)"><text class="nm" x="472" y="5" textLength="80" lengthAdjust="spacing">神田　聖弥</text><text class="af a8" x="558" y="3.6" textLength="68" lengthAdjust="spacingAndGlyphs">(甲府工業高・山梨)</text></g>
<g id="R47" transform="translate(0,1122.5)"><text class="nm" x="472" y="5" textLength="80" lengthAdjust="spacing">鈴木　拓貴</text><text class="af a9" x="558" y="3.2" textLength="68" lengthAdjust="spacingAndGlyphs">(横浜総合高・神奈川)</text></g>
</svg>
